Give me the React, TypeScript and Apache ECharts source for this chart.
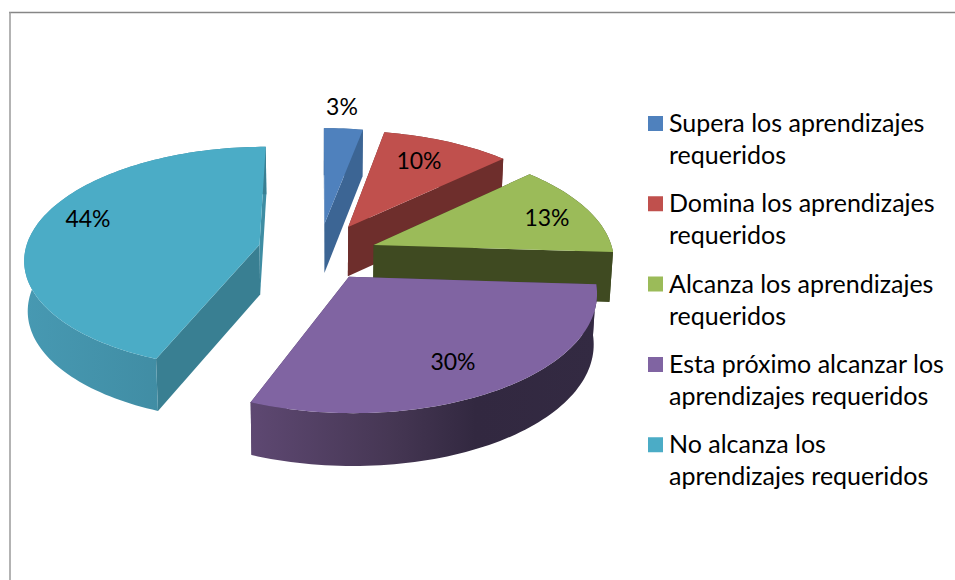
import React, { useEffect, useRef } from "react";
import * as echarts from "echarts";

const categories = [
  "Supera los aprendizajes\nrequeridos",
  "Domina los aprendizajes\nrequeridos",
  "Alcanza los aprendizajes\nrequeridos",
  "Esta próximo alcanzar los\naprendizajes requeridos",
  "No alcanza los\naprendizajes requeridos",
];
const shares = [3, 10, 13, 30, 44];
const colors = ["#4F81BD", "#C0504D", "#9BBB59", "#8064A2", "#4BACC6"];
const startEdgeColors = ["#3C6594", "#6E2E2C", "#3F4A21", "#4B3A5E", "#397F92"];
const endEdgeColors = ["#3C6594", "#6E2E2C", "#3F4A21", "#4B3A5E", "#3F8DA3"];
const wallStops: [number, string][][] = [
  [[0, "#3C6594"], [1, "#3C6594"]],
  [[0, "#6E2E2C"], [1, "#6E2E2C"]],
  [[0, "#3F4A21"], [1, "#3F4A21"]],
  [[0, "#5E4872"], [0.4, "#463754"], [0.65, "#322840"], [1, "#332A42"]],
  [[0, "#4799B2"], [0.6, "#408CA3"], [1, "#397F92"]],
];

// Projection of the tilted, exploded pie (layout, not data)
const CX = 319;
const CY = 254.5;
const RX = 240;
const RY = 114;
const PERSP = 0.121;
const EXPLODE = 0.25;
const DEPTH = 50;
const nudgeX = [0, 0.005, -0.005, -0.012, -0.005];
const nudgeY = [-0.03, -0.03, 0, -0.02, -0.04];
const radiusScale = [1, 1, 1, 1, 0.98];
const labelPos = [
  [342, 106],
  [419, 160],
  [547, 217],
  [453, 361],
  [88, 218],
];

const FONT = "Lato, Carlito, sans-serif";
const total = shares.reduce((a, b) => a + b, 0);

function project(X: number, Y: number, bottom: boolean): number[] {
  const den = 1 - PERSP * Y;
  const x = (RX * X) / den;
  const y = CY + (RY * Y) / den;
  if (!bottom) return [CX + x, y];
  return [CX + x * 0.988, y + DEPTH * (1 + (1 - den) * 0.4)];
}

function makeRender(index: number) {
  return (_params: any, api: any) => {
    const value = api.value(0);
    const before = shares.slice(0, index).reduce((a, b) => a + b, 0);
    const a0 = (before / total) * Math.PI * 2;
    const a1 = a0 + (value / total) * Math.PI * 2;
    const mid = (a0 + a1) / 2;
    const ox = EXPLODE * Math.sin(mid) + nudgeX[index];
    const oy = -EXPLODE * Math.cos(mid) + nudgeY[index];
    const r = radiusScale[index];

    const tipTop = project(ox, oy, false);
    const tipBot = project(ox, oy, true);
    const arcTop: number[][] = [];
    const arcBot: number[][] = [];
    const steps = Math.max(8, Math.round((a1 - a0) * 40));
    for (let i = 0; i <= steps; i++) {
      const a = a0 + ((a1 - a0) * i) / steps;
      const X = ox + r * Math.sin(a);
      const Y = oy - r * Math.cos(a);
      arcTop.push(project(X, Y, false));
      arcBot.push(project(X, Y, true));
    }
    const last = arcTop.length - 1;
    const poly = (points: number[][], fill: any) => ({
      type: "polygon",
      shape: { points },
      style: { fill },
      silent: true,
    });
    const wallFill = new echarts.graphic.LinearGradient(
      0,
      0,
      1,
      0,
      wallStops[index].map(([offset, color]) => ({ offset, color })),
    );
    const children: any[] = [
      poly([tipTop, arcTop[0], arcBot[0], tipBot], startEdgeColors[index]),
      poly([tipTop, arcTop[last], arcBot[last], tipBot], endEdgeColors[index]),
      poly([...arcTop, ...arcBot.slice().reverse()], wallFill),
      poly([tipTop, ...arcTop], colors[index]),
      {
        type: "text",
        silent: true,
        style: {
          text: `${value}%`,
          x: labelPos[index][0],
          y: labelPos[index][1],
          align: "center",
          verticalAlign: "middle",
          fill: "#000",
          font: `23px ${FONT}`,
        },
      },
    ];
    return { type: "group", children };
  };
}

const LEGEND_ICON = "path://M0 0H15V15H0Z M0 44L0.01 44L0 44Z";

export default function App() {
  const ref = useRef<HTMLDivElement>(null);
  useEffect(() => {
    document.body.style.margin = "0";
    const chart = echarts.init(ref.current!, null, { renderer: "svg" });
    chart.setOption({
      animation: false,
      backgroundColor: "#fff",
      legend: {
        orient: "vertical",
        left: 648,
        top: 106,
        padding: 0,
        itemWidth: 15,
        itemHeight: 44,
        itemGap: 16.3,
        selectedMode: false,
        icon: LEGEND_ICON,
        data: categories.map((name, i) => ({ name, itemStyle: { color: colors[i] } })),
        textStyle: { fontFamily: FONT, fontSize: 25, lineHeight: 32, color: "#000", padding: [0, 0, 0, 1] },
        formatter: (n: string) => n,
      },
      graphic: [
        { type: "line", silent: true, shape: { x1: 9, y1: 12.5, x2: 955, y2: 12.5 }, style: { stroke: "#868686", lineWidth: 1.5 } },
        { type: "line", silent: true, shape: { x1: 10, y1: 12, x2: 10, y2: 580 }, style: { stroke: "#9a9a9a", lineWidth: 1.5 } },
      ],
      series: categories.map((name, i) => ({
        type: "custom",
        name,
        coordinateSystem: "none",
        silent: true,
        z: i === 3 ? 6 : i === 4 ? 5 : i + 1,
        itemStyle: { color: colors[i] },
        data: [[shares[i]]],
        renderItem: makeRender(i),
      })),
    });
    return () => chart.dispose();
  }, []);
  return <div ref={ref} style={{ position: "absolute", left: 0, top: 0, width: 955, height: 580 }} />;
}
